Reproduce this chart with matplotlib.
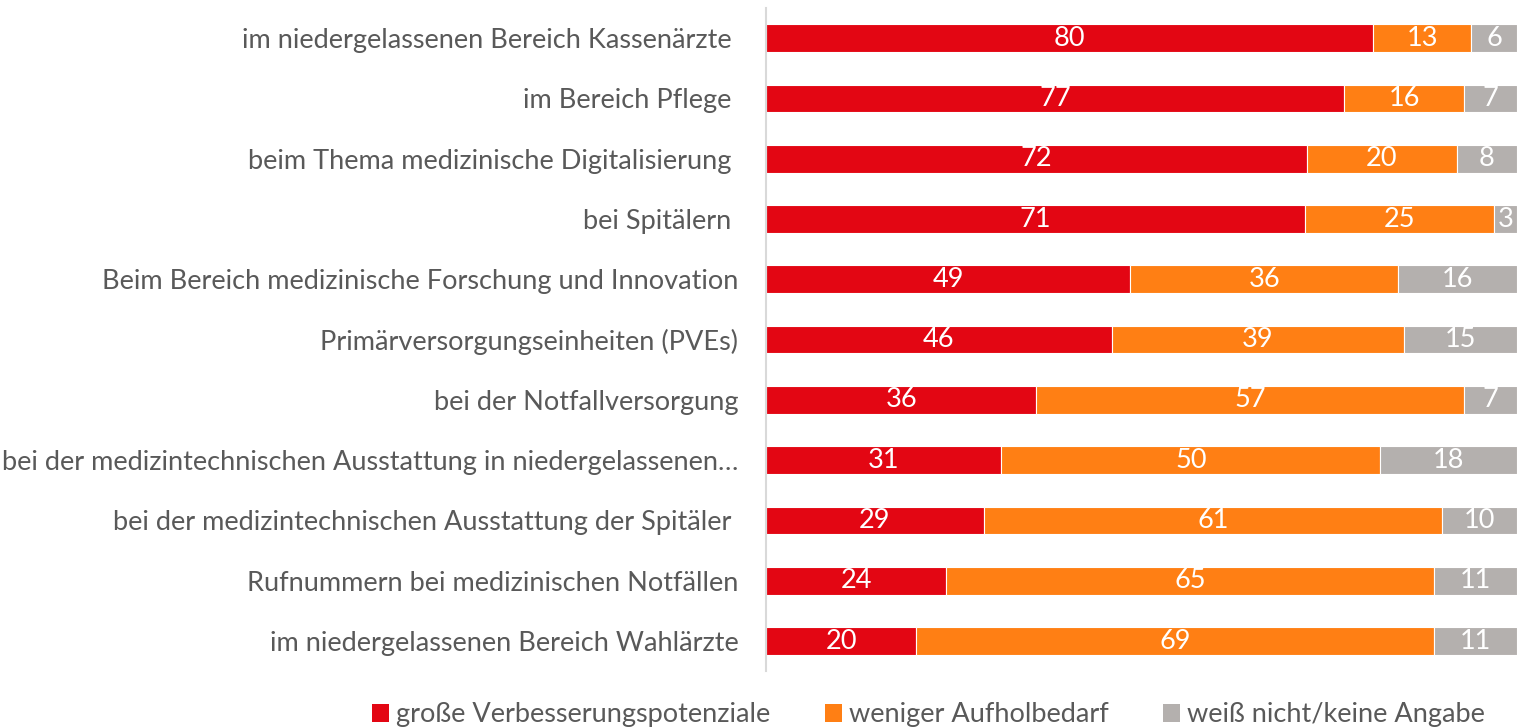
import numpy as np
import matplotlib.pyplot as plt
from matplotlib.patches import Patch

plt.rcParams['font.family'] = ['Lato', 'DejaVu Sans']

categories = [
    'im niedergelassenen Bereich Kassenärzte ',
    'im Bereich Pflege ',
    'beim Thema medizinische Digitalisierung ',
    'bei Spitälern ',
    'Beim Bereich medizinische Forschung und Innovation',
    'Primärversorgungseinheiten (PVEs)',
    'bei der Notfallversorgung',
    'bei der medizintechnischen Ausstattung in niedergelassenen…',
    'bei der medizintechnischen Ausstattung der Spitäler ',
    'Rufnummern bei medizinischen Notfällen',
    'im niedergelassenen Bereich Wahlärzte',
]
grosse = [80, 77, 72, 71, 49, 46, 36, 31, 29, 24, 20]
weniger = [13, 16, 20, 25, 36, 39, 57, 50, 61, 65, 69]
weiss = [6, 7, 8, 3, 16, 15, 7, 18, 10, 11, 11]

series_names = ['große Verbesserungspotenziale', 'weniger Aufholbedarf', 'weiß nicht/keine Angabe']
colors = ['#E30613', '#FF7F14', '#B4B0AE']
text_color = '#595959'
fs = 19.5

fig = plt.figure(figsize=(15.17, 7.28), dpi=100)
ax = fig.add_axes([0.505, 0.078, 0.495, 0.911])

series = [np.array(grosse, float), np.array(weniger, float), np.array(weiss, float)]
totals = series[0] + series[1] + series[2]
y = np.arange(len(categories))
left = np.zeros(len(categories))
for vals, col in zip(series, colors):
    width = vals / totals
    ax.barh(y, width, left=left, height=0.46, color=col, edgecolor='white', linewidth=0.8)
    for yi, l, w, v in zip(y, left, width, vals):
        ax.text(l + w / 2, yi, f'{int(v)}', ha='center', va='center',
                color='white', fontsize=fs)
    left += width

ax.set_xlim(0, 1)
ax.set_ylim(len(categories) - 0.5, -0.5)
ax.set_yticks(y)
ax.set_yticklabels(categories, fontsize=fs, color=text_color)
ax.tick_params(axis='y', length=0, pad=20)
ax.set_xticks([])
for s in ['top', 'right', 'bottom']:
    ax.spines[s].set_visible(False)
ax.spines['left'].set_color('#D9D9D9')
ax.spines['left'].set_linewidth(1.5)

handles = [Patch(facecolor=c, edgecolor='none') for c in colors]
fig.legend(handles, series_names, loc='center', bbox_to_anchor=(0.612, 0.018),
           ncol=3, frameon=False, fontsize=fs, handlelength=0.63, handleheight=0.63,
           handletextpad=0.26, columnspacing=2.0, labelcolor=text_color,
           borderpad=0, borderaxespad=0)

fig.savefig('out.png', dpi=100)
